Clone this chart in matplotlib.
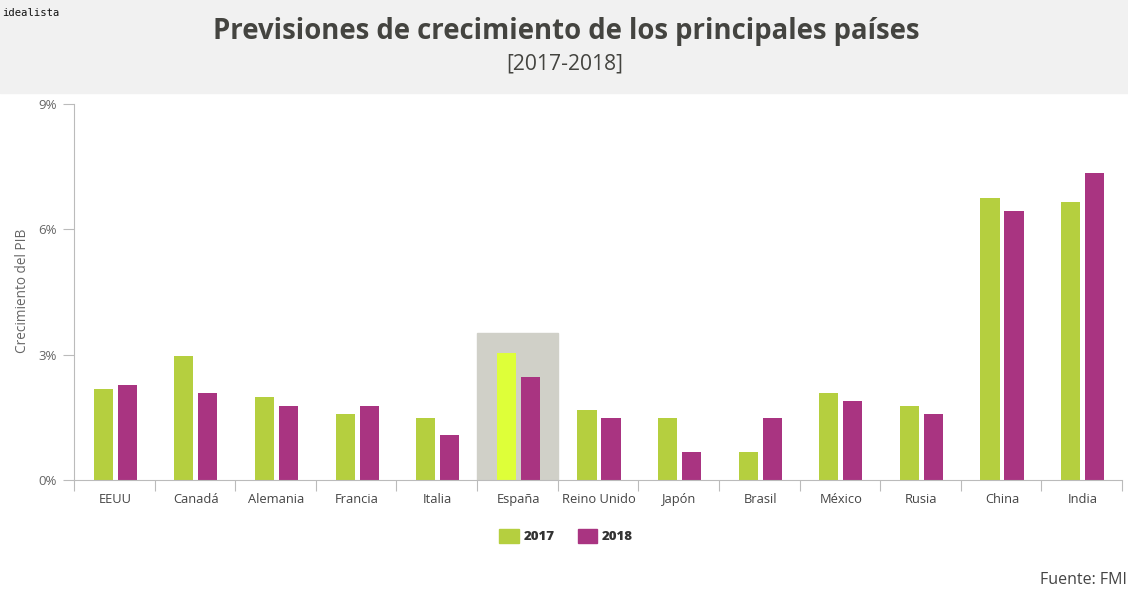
import matplotlib
matplotlib.use('Agg')
import matplotlib.pyplot as plt
from matplotlib.patches import Rectangle

# Datos
paises = ['EEUU', 'Canadá', 'Alemania', 'Francia', 'Italia', 'España', 'Reino Unido',
          'Japón', 'Brasil', 'México', 'Rusia', 'China', 'India']
v2017 = [2.18, 2.98, 1.98, 1.58, 1.48, 3.05, 1.68, 1.48, 0.68, 2.08, 1.78, 6.75, 6.65]
v2018 = [2.28, 2.08, 1.78, 1.78, 1.08, 2.47, 1.48, 0.68, 1.48, 1.88, 1.58, 6.45, 7.35]
ticks_y = [0, 3, 6, 9]
ticks_y_txt = ['0%', '3%', '6%', '9%']

verde = '#b5cf3f'
verde_esp = '#deff39'
morado = '#a93481'
gris = '#666666'

plt.rcParams['font.family'] = ['Open Sans', 'DejaVu Sans']

W, H = 1128, 591
fig = plt.figure(figsize=(W/100, H/100), dpi=100)

# Banda del titulo
fig.patches.append(Rectangle((0, 1-93/H), 1, 93/H, transform=fig.transFigure, color='#f1f1f1', zorder=0))
fig.text(566/W, 1-31/H, 'Previsiones de crecimiento de los principales países', ha='center', va='center',
         fontsize=19.8, fontweight='bold', color='#444440')
fig.text(565/W, 1-64/H, '[2017-2018]', ha='center', va='center', fontsize=15.2, color='#444440')
fig.text(2/W, 1-13/H, 'idealista', ha='left', va='center', fontsize=7.6, family='DejaVu Sans Mono', color='#111111')
fig.text(1127/W, 1-580/H, 'Fuente: FMI', ha='right', va='center', fontsize=11.5, color='#444444')

ax = fig.add_axes([74/W, 1-480/H, (1122-74)/W, (480-104)/H])
ax.set_xlim(0, 13)
ax.set_ylim(0, 9)
ax.patch.set_alpha(0)

ancho = 0.238
sep = 0.298
desp = 0.012  # las barras van un pelin a la derecha
x = list(range(13))
# fondo de España
ax.add_patch(Rectangle((5, 0), 1, 3.52, color='#d0d0c8', zorder=1))
for i in x:
    c = verde_esp if paises[i] == 'España' else verde
    ax.bar(i+0.5+desp-sep/2, v2017[i], ancho, color=c, zorder=2)
    ax.bar(i+0.5+desp+sep/2, v2018[i], ancho, color=morado, zorder=2)

ax.set_yticks(ticks_y)
ax.set_yticklabels(ticks_y_txt, fontsize=9.5, color=gris)
ax.set_xticks(x + [13])
ax.set_xticklabels([])
ax.xaxis.set_tick_params(length=8, color='#bbbbbb', width=0.8)
ax.yaxis.set_tick_params(length=8, color='#bbbbbb', width=0.8, pad=4.5)
for i in x:
    ax.text(i+0.5+desp, -0.47, paises[i], ha='center', va='center', fontsize=9.3, color='#444444')
for s in ['top', 'right']:
    ax.spines[s].set_visible(False)
for s in ['left', 'bottom']:
    ax.spines[s].set_color('#bbbbbb')
    ax.spines[s].set_linewidth(0.8)
fig.text(23/W, 1-291/H, 'Crecimiento del PIB', rotation=90, ha='center', va='center', fontsize=9.8, color=gris)

# Leyenda
fig.patches.append(Rectangle((499/W, 1-543/H), 20/W, 14/H, transform=fig.transFigure, color=verde))
fig.patches.append(Rectangle((578/W, 1-543/H), 19/W, 14/H, transform=fig.transFigure, color=morado))
fig.text(524/W, 1-537/H, '2017', ha='left', va='center', fontsize=9.5, fontweight='heavy', color='#333333')
fig.text(602/W, 1-537/H, '2018', ha='left', va='center', fontsize=9.5, fontweight='heavy', color='#333333')

plt.savefig('out.png', dpi=100)
